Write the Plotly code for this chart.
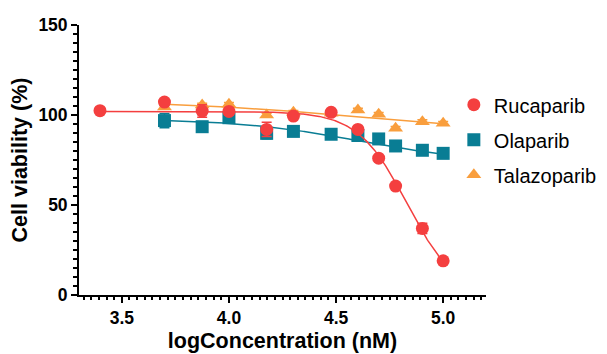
import numpy as np
import plotly.graph_objects as go

# ---- data ----
log_conc = [3.398, 3.699, 3.875, 4.0, 4.176, 4.301, 4.477, 4.602, 4.699, 4.778, 4.903, 5.0]

ruca_y   = [102.4, 107.2, 102.2, 102.0, 92.0, 99.4, 101.5, 92.0, 76.0, 60.5, 37.0, 19.0]
ruca_err = [0.5, 1.5, 3.5, 2.0, 4.0, 1.0, 1.0, 1.5, 1.0, 1.0, 2.8, 1.0]

ola_x    = [3.699, 3.875, 4.0, 4.176, 4.301, 4.477, 4.602, 4.699, 4.778, 4.903, 5.0]
ola_y    = [96.9, 93.5, 98.5, 89.8, 90.9, 89.3, 88.6, 86.7, 82.8, 80.4, 78.7]
ola_err  = [4.0, 1.0, 2.5, 3.0, 1.0, 1.0, 1.0, 1.0, 1.0, 1.0, 1.0]

tala_x   = [3.699, 3.875, 4.0, 4.176, 4.301, 4.477, 4.602, 4.699, 4.778, 4.903, 5.0]
tala_y   = [104.5, 105.5, 106.0, 100.0, 101.5, 101.0, 102.8, 100.4, 92.6, 96.3, 95.4]
tala_err = [1.0, 1.0, 1.0, 1.0, 1.0, 1.0, 1.0, 1.0, 1.0, 1.0, 1.0]

# four-parameter logistic fit parameters (top, bottom, logIC50, hill)
ruca_fit = (102.0, 0.0, 4.83, 3.8)
ola_fit  = (98.0, 73.0, 4.615, 1.5)
tala_fit = (108.0, 90.0, 4.6, 1.0)

x_ticks = [3.5, 4.0, 4.5, 5.0]
x_tick_text = ["3.5", "4.0", "4.5", "5.0"]
y_ticks = [0, 50, 100, 150]

RED = "#F43F3F"
TEAL = "#097D94"
ORANGE = "#F99E3D"
FONT = "Liberation Sans, Arial, sans-serif"


def four_pl(x, p):
    top, bottom, c, h = p
    x = np.asarray(x)
    return bottom + (top - bottom) / (1 + 10 ** ((x - c) * h))


fig = go.Figure()

series = [
    ("Talazoparib", tala_x, tala_y, tala_err, tala_fit, ORANGE, "triangle-up", 3),
    ("Olaparib", ola_x, ola_y, ola_err, ola_fit, TEAL, "square", 2),
    ("Rucaparib", log_conc, ruca_y, ruca_err, ruca_fit, RED, "circle", 1),
]

for name, xs, ys, errs, fit, col, sym, rank in series:
    xf = np.linspace(min(xs), max(xs), 300)
    fig.add_trace(go.Scatter(
        x=xf, y=four_pl(xf, fit), mode="lines",
        line=dict(color=col, width=1.5), showlegend=False, hoverinfo="skip"))
    fig.add_trace(go.Scatter(
        x=xs, y=ys, mode="markers", name=name, legendrank=rank,
        legendgroup=name,
        marker=dict(symbol=sym, size=13, color=col, line=dict(width=0)),
        error_y=dict(type="data", array=errs, color=col, thickness=1.5, width=5)))

# the page body adds an 8px offset, so the figure is sized 599x346
fig.update_layout(
    width=599, height=346,
    margin=dict(l=71, r=121, t=17, b=59, autoexpand=False),
    paper_bgcolor="white", plot_bgcolor="white",
    font=dict(family=FONT, color="black"),
    legend=dict(x=0.921, xref="paper", xanchor="left", y=0.777, yanchor="top",
                font=dict(size=20, family=FONT, color="black"),
                tracegroupgap=6, bgcolor="rgba(0,0,0,0)", itemwidth=30),
    showlegend=True,
)

fig.update_xaxes(
    range=[3.3, 5.2], tickmode="array", tickvals=x_ticks, ticktext=x_tick_text,
    automargin=False,
    showline=True, linecolor="black", linewidth=1.8, mirror=False,
    ticks="outside", ticklen=6, tickwidth=1.8, tickcolor="black",
    showgrid=False, zeroline=False,
    tickfont=dict(size=17.5, family=FONT, color="black", weight="bold"),
    title=dict(text="<b>logConcentration (nM)</b>", font=dict(size=21.5, family=FONT), standoff=6),
    minor=dict(tick0=3.5, dtick=0.5 / 14, ticks="outside", ticklen=3.5,
               tickwidth=1.5, tickcolor="black", showgrid=False),
)
fig.update_yaxes(
    range=[0, 150], tickmode="array", tickvals=y_ticks,
    automargin=False,
    showline=True, linecolor="black", linewidth=1.8,
    ticks="outside", ticklen=6, tickwidth=1.8, tickcolor="black",
    showgrid=False, zeroline=False,
    tickfont=dict(size=17.5, family=FONT, color="black", weight="bold"),
    title=dict(text="<b>Cell viability (%)</b>", font=dict(size=21.5, family=FONT), standoff=6),
    minor=dict(tick0=0, dtick=5, ticks="outside", ticklen=4,
               tickwidth=1.5, tickcolor="black", showgrid=False),
)

fig.write_html("out.html")
